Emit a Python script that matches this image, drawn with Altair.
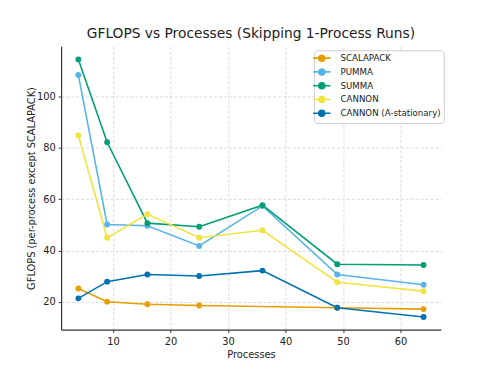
import altair as alt
import pandas as pd

processes = [4, 9, 16, 25, 36, 49, 64]
series_names = ["SCALAPACK", "PUMMA", "SUMMA", "CANNON", "CANNON (A-stationary)"]
colors = ["#E69F00", "#56B4E9", "#009E73", "#F0E442", "#0072B2"]

scalapack = [25.2, 20.1, 19.1, 18.6, None, 17.7, 17.2]
pumma = [108.4, 50.2, 49.7, 41.8, 57.4, 30.7, 26.7]
summa = [114.5, 82.2, 50.7, 49.3, 57.7, 34.7, 34.4]
cannon = [84.9, 45.0, 54.2, 45.0, 47.9, 27.7, 24.2]
cannon_a = [21.4, 27.9, 30.7, 30.1, 32.2, 17.7, 14.1]

rows = []
for name, vals in zip(series_names, [scalapack, pumma, summa, cannon, cannon_a]):
    for p, v in zip(processes, vals):
        if v is not None:
            rows.append({"Processes": p, "GFLOPS": v, "Algorithm": name})
df = pd.DataFrame(rows)

font = "DejaVu Sans"
legend_symbol = "M-2.2,0L2.2,0M-0.75,0A0.75,0.75 0 1,0 0.75,0A0.75,0.75 0 1,0 -0.75,0Z"

chart = alt.Chart(df).mark_line(
    strokeWidth=1.6,
    point=alt.OverlayMarkDef(filled=True, size=36, opacity=1),
).encode(
    x=alt.X("Processes:Q",
            scale=alt.Scale(domain=[1, 67], nice=False, zero=False),
            axis=alt.Axis(values=[10, 20, 30, 40, 50, 60], title="Processes")),
    y=alt.Y("GFLOPS:Q",
            scale=alt.Scale(domain=[9.2, 119.6], nice=False, zero=False),
            axis=alt.Axis(values=[20, 40, 60, 80, 100],
                          title="GFLOPS (per-process except SCALAPACK)")),
    color=alt.Color("Algorithm:N",
                    scale=alt.Scale(domain=series_names, range=colors),
                    sort=series_names,
                    legend=alt.Legend(
                        title=None, orient="none", legendX=257, legendY=4,
                        symbolType=legend_symbol, symbolSize=64,
                        symbolStrokeWidth=1.6, labelFont=font, labelFontSize=8.8,
                        labelColor="#222", rowPadding=0, labelOffset=14,
                        padding=3, strokeColor="#cccccc", fillColor="white",
                        cornerRadius=3)),
    order=alt.Order("Processes:Q"),
).properties(
    width=386,
    height=288,
    title=alt.TitleParams("GFLOPS vs Processes (Skipping 1-Process Runs)",
                          font=font, fontSize=14, fontWeight="normal",
                          color="#222", anchor="middle", offset=5),
    autosize=alt.AutoSizeParams(type="none"),
    padding={"left": 54, "top": 36, "right": 50, "bottom": 34},
).configure_view(
    stroke=None
).configure_axis(
    labelFont=font, titleFont=font, labelFontSize=10, titleFontSize=10,
    titleFontWeight="normal", labelColor="#222", titleColor="#222",
    domainColor="#333", domainWidth=1.2, tickColor="#333", tickSize=3,
    gridColor="#d0d0d0", gridDash=[3, 2], gridWidth=0.8,
    labelPadding=3,
).configure_axisX(
    titlePadding=3, labelPadding=4,
).configure_axisY(
    titlePadding=0,
)

chart.save("out.html", embed_options={"renderer": "svg", "actions": False})
